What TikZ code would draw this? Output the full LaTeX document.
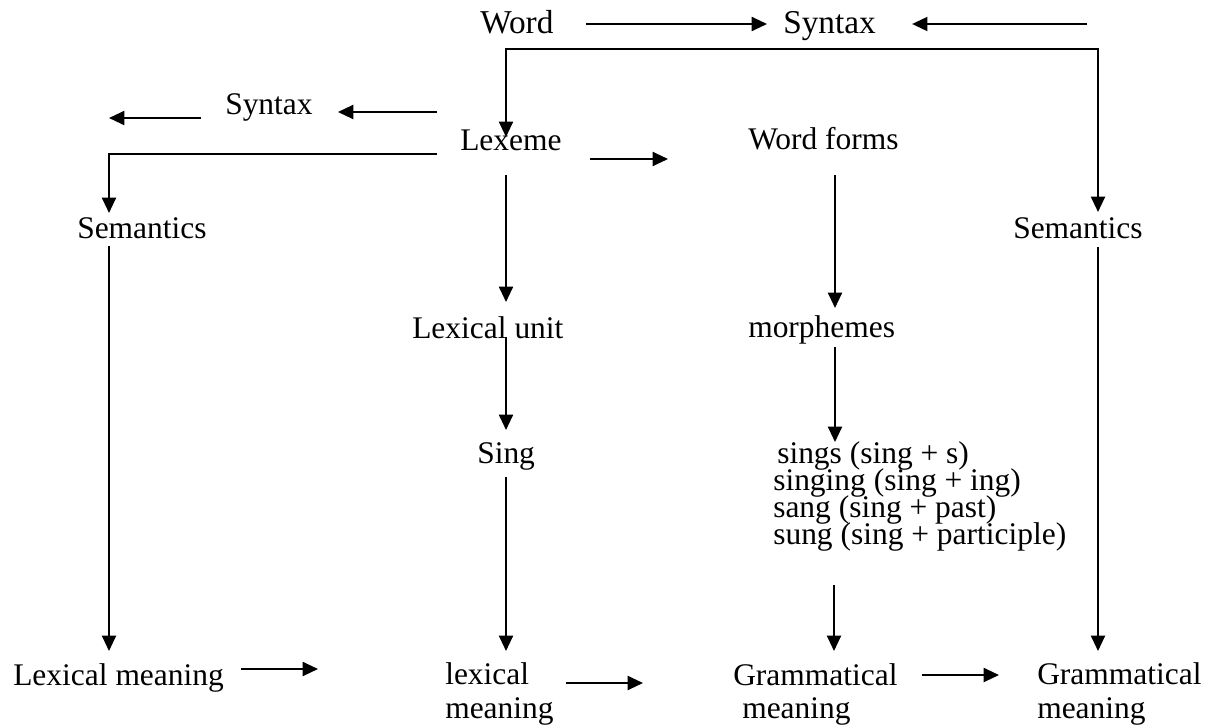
\documentclass[tikz,border=0pt]{standalone}
\usepackage{fontspec}
\setmainfont{Liberation Serif}
\usetikzlibrary{arrows.meta,calc}
% a line of the forms list, with a flat box so the lines can sit close together
\newcommand{\formline}[1]{\raisebox{0pt}[14pt][3pt]{#1}}
\begin{document}
\begin{tikzpicture}[x=0.75pt,y=-0.75pt,
  lbl/.style={anchor=base west,inner sep=0pt,font=\fontsize{23.6}{25.5}\selectfont},
  toplbl/.style={lbl,font=\fontsize{25}{27}\selectfont},
  listlbl/.style={lbl,align=left,font=\fontsize{23.6}{20.25}\selectfont},
  link/.style={line width=1.5pt,line join=miter},
  arr/.style={link,-{Triangle[length=11.5pt,width=10.5pt]}},
  twoarr/.style={link,{Triangle[length=11.5pt,width=10.5pt]}-{Triangle[length=11.5pt,width=10.5pt]}}]
\useasboundingbox (0,0) rectangle (1210,728);

% labels; single lines sit on their baseline, multi-line ones on the last baseline
\node[toplbl] (word)      at (480,33)  {Word};
\node[toplbl] (syntaxtop) at (783,33)  {Syntax};
\node[lbl] (syntaxlft) at (225,114) {Syntax};
\node[lbl] (lexeme)    at (460,150) {Lexeme};
\node[lbl] (wordforms) at (748,149) {Word forms};
\node[lbl] (semleft)   at (77,238)  {Semantics};
\node[lbl] (semright)  at (1013,238) {Semantics};
\node[lbl] (lexunit)   at (412,338) {Lexical unit};
\node[lbl] (morph)     at (748,337) {morphemes};
\node[lbl] (sing)      at (477,463) {Sing};
\node[listlbl] (forms) at (773,544)
  {\formline{\hspace*{3pt}sings (sing + s)}\\\formline{singing (sing + ing)}\\
   \formline{sang (sing + past)}\\\formline{sung (sing + participle)}};
\node[lbl] (lexmean)   at (13,685)  {Lexical meaning};
\node[lbl,align=left] (lexmid) at (445,718) {lexical\\meaning};
\node[lbl] (grammidA)  at (733,685) {Grammatical};
\node[lbl] (grammidB)  at (742,718) {meaning};
\node[lbl,align=left] (gramrgt) at (1037,718) {Grammatical\\meaning};

% free ends and corners
\coordinate (rtail)   at (1087,24);
\coordinate (topbar)  at (1098,49);
\coordinate (farleft) at (109,118);
\coordinate (lmtip)   at (318,669);

% top row
\draw[arr] ($(word.base east)+(32,-9)$) -- ($(syntaxtop.base west)+(-16,-9)$);
\draw[arr] (rtail) -- ($(syntaxtop.base east)+(36,-9)$);
\draw[twoarr] ($(lexeme.base west)+(46,-13)$) |- (topbar)
  -- ($(semright.base west)+(85,-26)$);

% left branch
\draw[arr] ($(lexeme.base west)+(-23,-38)$) -- ($(syntaxlft.base east)+(25,-2)$);
\draw[arr] ($(syntaxlft.base west)+(-24,4)$) -- (farleft);
\draw[arr] ($(lexeme.base west)+(-23,4)$) -| ($(semleft.base west)+(32,-25)$);
\draw[arr] ($(semleft.base west)+(32,8)$) -- ($(lexmean.base west)+(96,-34)$);
\draw[arr] ($(lexmean.base east)+(17,-16)$) -- (lmtip);

% lexeme column
\draw[arr] ($(lexeme.base east)+(28,9)$) -- ($(wordforms.base west)+(-80,10)$);
\draw[arr] ($(lexeme.base west)+(46,25)$) -- ($(lexunit.base west)+(94,-36)$);
\draw[arr] ($(lexunit.base west)+(94,-1)$) -- ($(sing.base west)+(29,-33)$);
\draw[arr] ($(sing.base west)+(29,14)$) -- ($(lexmid.base west)+(61,-67)$);
\draw[arr] ($(lexmid.base west)+(121,-35)$) -- ($(grammidA.base west)+(-90,-2)$);

% word-forms column
\draw[arr] ($(wordforms.base west)+(87,26)$) -- ($(morph.base west)+(87,-29)$);
\draw[arr] ($(morph.base west)+(87,10)$) -- ($(forms.base west)+(62,-102)$);
\draw[arr] ($(forms.base west)+(61,41)$) -- ($(grammidA.base west)+(101,-34)$);
\draw[arr] ($(grammidA.base east)+(24,-10)$) -- ($(gramrgt.base west)+(-38,-43)$);

% right column
\draw[arr] ($(semright.base west)+(85,9)$) -- ($(gramrgt.base west)+(61,-67)$);
\end{tikzpicture}
\end{document}
